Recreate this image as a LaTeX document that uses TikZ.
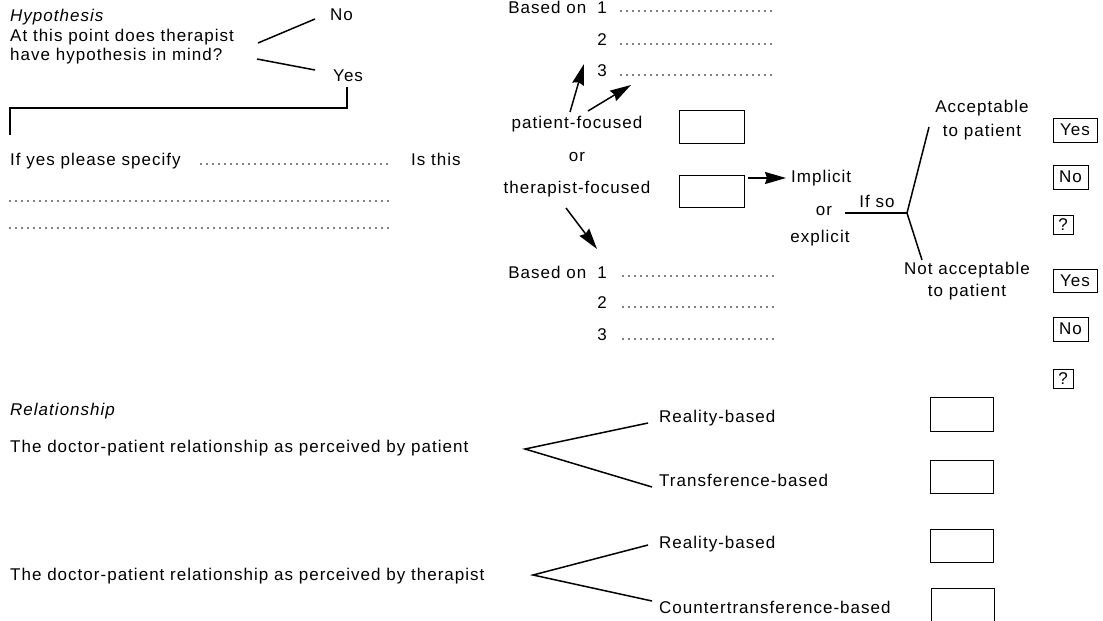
\documentclass[tikz,border=0pt]{standalone}
\usepackage{fontspec}
\setmainfont{Liberation Sans}[LetterSpace=6]
\usetikzlibrary{arrows.meta}
\newcommand{\myfs}{\fontsize{17}{20}\selectfont}
\begin{document}
\begin{tikzpicture}[x=1pt,y=-1pt,
  t/.style={font=\myfs, inner sep=0pt},
  ln/.style={line width=1.5pt},
  arr/.style={line width=1.5pt, -{Stealth[length=21pt,width=12pt,inset=2pt]}},
  dots/.style={line width=1.6pt, dash pattern=on 0pt off 6pt, line cap=round},
  bx/.style={draw, line width=0.9pt},
  sbx/.style={draw, line width=0.9pt, font=\myfs, inner sep=0pt, text depth=0pt}]
\useasboundingbox (0,0) rectangle (1103,621);

% ---------- Hypothesis ----------
\node[t,anchor=west] (hyp) at (10,17) {\itshape Hypothesis};
\node[t,anchor=west] (q1) at (10,37) {At this point does therapist};
\node[t,anchor=west] (q2) at (10,56) {have hypothesis in mind?};
\node[t,anchor=west] (no) at (330,15) {No};
\node[t,anchor=west] (yes) at (333,76) {Yes};
\coordinate (q1e) at (258,43);
\coordinate (now) at (315,19);
\coordinate (q2e) at (257,59);
\coordinate (yesw) at (315,70);
\draw[ln] (q1e) -- (now);
\draw[ln] (q2e) -- (yesw);
\coordinate (br1) at (347,87);
\coordinate (br2) at (10,135);
\draw[ln] (br1) -- (347,108) -- (10,108) -- (br2);

\node[t,anchor=west] (spec) at (10,161) {If yes please specify};
\coordinate (sd1) at (201,164); \coordinate (sd2) at (390,164);
\draw[dots] (sd1) -- (sd2);
\coordinate (d2a) at (10,201); \coordinate (d2b) at (390,201);
\draw[dots] (d2a) -- (d2b);
\coordinate (d3a) at (10,228); \coordinate (d3b) at (390,228);
\draw[dots] (d3a) -- (d3b);
\node[t,anchor=west] (isthis) at (411,159) {Is this};

% ---------- upper Based on ----------
\node[t,anchor=east] (ub1) at (607,7) {Based on\hspace{11pt}1};
\node[t,anchor=east] (ub2) at (607,40) {2};
\node[t,anchor=east] (ub3) at (607,71) {3};
\coordinate (u1a) at (621,11); \coordinate (u1b) at (773,11);
\coordinate (u2a) at (621,44); \coordinate (u2b) at (773,44);
\coordinate (u3a) at (621,75); \coordinate (u3b) at (773,75);
\draw[dots] (u1a) -- (u1b);
\draw[dots] (u2a) -- (u2b);
\draw[dots] (u3a) -- (u3b);

% ---------- focus ----------
\node[t] (pf) at (577,124) {patient-focused};
\node[t] (or1) at (577,157) {or};
\node[t] (tf) at (577,189) {therapist-focused};
\node[bx, minimum width=65pt, minimum height=33pt, inner sep=0pt] (box1) at (711.5,126.5) {};
\node[bx, minimum width=65pt, minimum height=32pt, inner sep=0pt] (box2) at (711.5,191) {};
\coordinate (pa1) at (570,112); \coordinate (pa1t) at (584,64);
\coordinate (pa2) at (588,111); \coordinate (pa2t) at (631,85);
\draw[arr] (pa1) -- (pa1t);
\draw[arr] (pa2) -- (pa2t);
\coordinate (ta1) at (566,208); \coordinate (ta1t) at (597,249);
\draw[arr] (ta1) -- (ta1t);

% ---------- lower Based on ----------
\node[t,anchor=east] (lb1) at (607,272) {Based on\hspace{11pt}1};
\node[t,anchor=east] (lb2) at (607,303) {2};
\node[t,anchor=east] (lb3) at (607,335) {3};
\coordinate (l1a) at (623,276); \coordinate (l1b) at (775,276);
\coordinate (l2a) at (623,307); \coordinate (l2b) at (775,307);
\coordinate (l3a) at (623,339); \coordinate (l3b) at (775,339);
\draw[dots] (l1a) -- (l1b);
\draw[dots] (l2a) -- (l2b);
\draw[dots] (l3a) -- (l3b);

% ---------- implicit / explicit ----------
\node[t,anchor=west] (impl) at (791,178) {Implicit};
\node[t] (or2) at (824,211) {or};
\node[t] (expl) at (820,238) {explicit};
\draw[arr, shorten >=5pt] (box2.east |- impl.west) ++(4,0) coordinate (b2e) -- (impl.west);
\node[t] (ifso) at (877,201) {If so};
\coordinate (fs) at (845,213);
\coordinate (fj) at (907,213);
\coordinate (fu) at (929,127);
\coordinate (fd) at (922,260);
\draw[ln] (fs) -- (fj);
\draw[ln] (fj) -- (fu);
\draw[ln] (fj) -- (fd);
\node[t] (acc1) at (982,108) {Acceptable};
\node[t] (acc2) at (982,132) {to patient};
\node[t] (nacc1) at (967,270) {Not acceptable};
\node[t] (nacc2) at (967,292) {to patient};

\node[sbx, minimum width=44pt, minimum height=24pt] (y1) at (1075,130) {Yes};
\node[sbx, minimum width=35pt, minimum height=24pt] (n1) at (1070.5,177) {No};
\node[sbx, minimum width=20pt, minimum height=19pt] (qq1) at (1063,225) {?};
\node[sbx, minimum width=44pt, minimum height=23pt] (y2) at (1075,281) {Yes};
\node[sbx, minimum width=35pt, minimum height=24pt] (n2) at (1070.5,329) {No};
\node[sbx, minimum width=20pt, minimum height=19pt] (qq2) at (1063,379) {?};

% ---------- Relationship ----------
\node[t,anchor=west] (rel) at (10,411) {\itshape Relationship};
\node[t,anchor=west] (dp1) at (10,448) {The doctor-patient relationship as perceived by patient};
\node[t,anchor=west] (dp2) at (10,576) {The doctor-patient relationship as perceived by therapist};
\node[t,anchor=west] (rb1) at (659,418) {Reality-based};
\node[t,anchor=west] (tb) at (659,480) {Transference-based};
\node[t,anchor=west] (rb2) at (659,544) {Reality-based};
\node[t,anchor=west] (ctb) at (659,607) {Countertransference-based};
\coordinate (ap1) at (525,449);
\coordinate (ap1u) at (648,423);
\coordinate (ap1d) at (652,487);
\draw[ln] (ap1u) -- (ap1) -- (ap1d);
\coordinate (ap2) at (533,575);
\coordinate (ap2u) at (648,545);
\coordinate (ap2d) at (652,601);
\draw[ln] (ap2u) -- (ap2) -- (ap2d);
\node[bx, minimum width=63pt, minimum height=34pt, inner sep=0pt] (rbx1) at (961.5,414) {};
\node[bx, minimum width=63pt, minimum height=33pt, inner sep=0pt] (rbx2) at (961.5,476.5) {};
\node[bx, minimum width=63pt, minimum height=33pt, inner sep=0pt] (rbx3) at (962,545.5) {};
\coordinate (rb4a) at (931,621); \coordinate (rb4b) at (994,621);
\draw[line width=0.9pt] (rb4a) -- (931,588) -- (994,588) -- (rb4b);
\end{tikzpicture}
\end{document}
